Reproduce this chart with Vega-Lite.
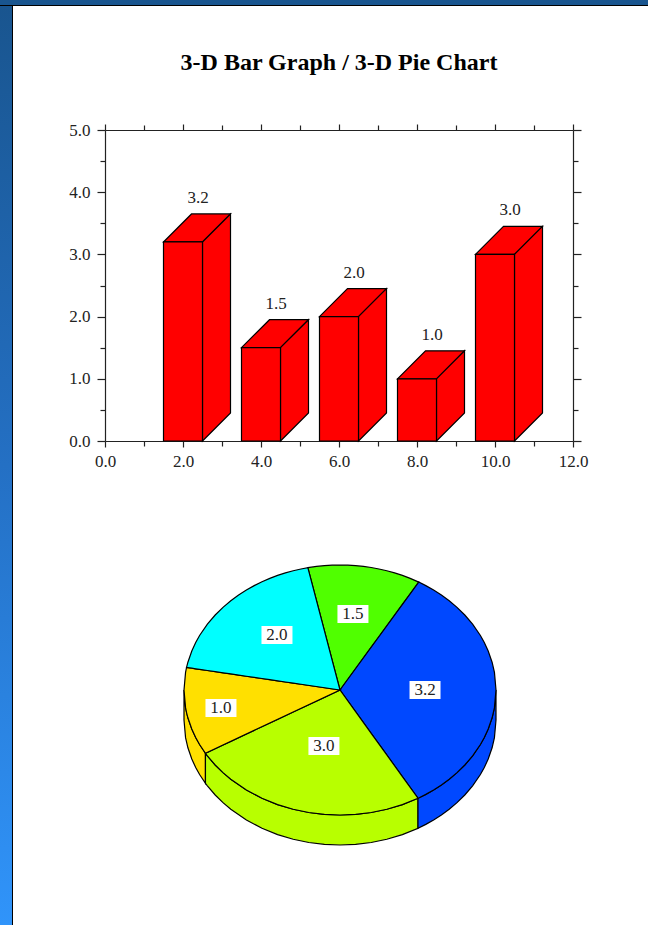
{
  "$schema": "https://vega.github.io/schema/vega-lite/v6.json",
  "padding": 0,
  "background": "white",
  "config": {
    "view": {"stroke": null},
    "axis": {
      "grid": false, "title": null, "domainColor": "#222", "tickColor": "#222", "domainWidth": 1.2, "tickWidth": 1.2,
      "labelFont": "Liberation Serif", "labelFontSize": 17, "labelColor": "#222",
      "labelPadding": 7, "labelOverlap": false, "labelFlush": false, "labelBound": false
    }
  },
  "datasets": {
    "bars": [
      {"center": 2, "left": 1.5, "right": 2.5, "value": 3.2},
      {"center": 4, "left": 3.5, "right": 4.5, "value": 1.5},
      {"center": 6, "left": 5.5, "right": 6.5, "value": 2.0},
      {"center": 8, "left": 7.5, "right": 8.5, "value": 1.0},
      {"center": 10, "left": 9.5, "right": 10.5, "value": 3.0}
    ],
    "barFaces": [
      {"face": "a-top", "x": 1.5, "lo": 3.2, "hi": 3.2},
      {"face": "a-top", "x": 2.218, "lo": 3.2, "hi": 3.65},
      {"face": "a-top", "x": 2.5, "lo": 3.2, "hi": 3.65},
      {"face": "a-top", "x": 3.218, "lo": 3.65, "hi": 3.65},
      {"face": "a-side", "x": 2.5, "lo": 0, "hi": 3.2},
      {"face": "a-side", "x": 3.218, "lo": 0.45, "hi": 3.65},
      {"face": "b-top", "x": 3.5, "lo": 1.5, "hi": 1.5},
      {"face": "b-top", "x": 4.218, "lo": 1.5, "hi": 1.95},
      {"face": "b-top", "x": 4.5, "lo": 1.5, "hi": 1.95},
      {"face": "b-top", "x": 5.218, "lo": 1.95, "hi": 1.95},
      {"face": "b-side", "x": 4.5, "lo": 0, "hi": 1.5},
      {"face": "b-side", "x": 5.218, "lo": 0.45, "hi": 1.95},
      {"face": "c-top", "x": 5.5, "lo": 2, "hi": 2},
      {"face": "c-top", "x": 6.218, "lo": 2, "hi": 2.45},
      {"face": "c-top", "x": 6.5, "lo": 2, "hi": 2.45},
      {"face": "c-top", "x": 7.218, "lo": 2.45, "hi": 2.45},
      {"face": "c-side", "x": 6.5, "lo": 0, "hi": 2},
      {"face": "c-side", "x": 7.218, "lo": 0.45, "hi": 2.45},
      {"face": "d-top", "x": 7.5, "lo": 1, "hi": 1},
      {"face": "d-top", "x": 8.218, "lo": 1, "hi": 1.45},
      {"face": "d-top", "x": 8.5, "lo": 1, "hi": 1.45},
      {"face": "d-top", "x": 9.218, "lo": 1.45, "hi": 1.45},
      {"face": "d-side", "x": 8.5, "lo": 0, "hi": 1},
      {"face": "d-side", "x": 9.218, "lo": 0.45, "hi": 1.45},
      {"face": "e-top", "x": 9.5, "lo": 3, "hi": 3},
      {"face": "e-top", "x": 10.218, "lo": 3, "hi": 3.45},
      {"face": "e-top", "x": 10.5, "lo": 3, "hi": 3.45},
      {"face": "e-top", "x": 11.218, "lo": 3.45, "hi": 3.45},
      {"face": "e-side", "x": 10.5, "lo": 0, "hi": 3},
      {"face": "e-side", "x": 11.218, "lo": 0.45, "hi": 3.45}
    ],
    "pieRim": [
      {"slice": "1.0", "x": -1, "hi": 0, "lo": -0.24},
      {"slice": "1.0", "x": -0.99, "hi": -0.14107, "lo": -0.38107},
      {"slice": "1.0", "x": -0.975, "hi": -0.2222, "lo": -0.4622},
      {"slice": "1.0", "x": -0.95, "hi": -0.31225, "lo": -0.55225},
      {"slice": "1.0", "x": -0.925, "hi": -0.38, "lo": -0.62},
      {"slice": "1.0", "x": -0.9, "hi": -0.43589, "lo": -0.67589},
      {"slice": "1.0", "x": -0.8625, "hi": -0.506, "lo": -0.746},
      {"slice": "3.0", "x": -0.8625, "hi": -0.506, "lo": -0.746},
      {"slice": "3.0", "x": -0.85, "hi": -0.5268, "lo": -0.7668},
      {"slice": "3.0", "x": -0.8, "hi": -0.6, "lo": -0.84},
      {"slice": "3.0", "x": -0.75, "hi": -0.66144, "lo": -0.90144},
      {"slice": "3.0", "x": -0.7, "hi": -0.71414, "lo": -0.95414},
      {"slice": "3.0", "x": -0.6, "hi": -0.8, "lo": -1.04},
      {"slice": "3.0", "x": -0.5, "hi": -0.86603, "lo": -1.10603},
      {"slice": "3.0", "x": -0.4, "hi": -0.91652, "lo": -1.15652},
      {"slice": "3.0", "x": -0.3, "hi": -0.95394, "lo": -1.19394},
      {"slice": "3.0", "x": -0.2, "hi": -0.9798, "lo": -1.2198},
      {"slice": "3.0", "x": -0.1, "hi": -0.99499, "lo": -1.23499},
      {"slice": "3.0", "x": 0, "hi": -1, "lo": -1.24},
      {"slice": "3.0", "x": 0.1, "hi": -0.99499, "lo": -1.23499},
      {"slice": "3.0", "x": 0.2, "hi": -0.9798, "lo": -1.2198},
      {"slice": "3.0", "x": 0.3, "hi": -0.95394, "lo": -1.19394},
      {"slice": "3.0", "x": 0.4, "hi": -0.91652, "lo": -1.15652},
      {"slice": "3.0", "x": 0.5, "hi": -0.86603, "lo": -1.10603},
      {"slice": "3.2", "x": 0.5, "hi": -0.86603, "lo": -1.10603},
      {"slice": "3.2", "x": 0.55, "hi": -0.83516, "lo": -1.07516},
      {"slice": "3.2", "x": 0.6, "hi": -0.8, "lo": -1.04},
      {"slice": "3.2", "x": 0.65, "hi": -0.75993, "lo": -0.99993},
      {"slice": "3.2", "x": 0.7, "hi": -0.71414, "lo": -0.95414},
      {"slice": "3.2", "x": 0.75, "hi": -0.66144, "lo": -0.90144},
      {"slice": "3.2", "x": 0.8, "hi": -0.6, "lo": -0.84},
      {"slice": "3.2", "x": 0.85, "hi": -0.52678, "lo": -0.76678},
      {"slice": "3.2", "x": 0.9, "hi": -0.43589, "lo": -0.67589},
      {"slice": "3.2", "x": 0.925, "hi": -0.38, "lo": -0.62},
      {"slice": "3.2", "x": 0.95, "hi": -0.31225, "lo": -0.55225},
      {"slice": "3.2", "x": 0.975, "hi": -0.2222, "lo": -0.4622},
      {"slice": "3.2", "x": 0.99, "hi": -0.14107, "lo": -0.38107},
      {"slice": "3.2", "x": 1, "hi": 0, "lo": -0.24}
    ],
    "pieTop": [
      {"slice": "1.5", "x": -0.2062, "hi": 0.9785, "lo": 0.9785},
      {"slice": "1.5", "x": -0.15, "hi": 0.98869, "lo": 0.7118},
      {"slice": "1.5", "x": -0.1, "hi": 0.99499, "lo": 0.4745},
      {"slice": "1.5", "x": -0.05, "hi": 0.99875, "lo": 0.2373},
      {"slice": "1.5", "x": 0, "hi": 1, "lo": 0},
      {"slice": "1.5", "x": 0.05, "hi": 0.99875, "lo": 0.0856},
      {"slice": "1.5", "x": 0.1, "hi": 0.99499, "lo": 0.1711},
      {"slice": "1.5", "x": 0.15, "hi": 0.98869, "lo": 0.2567},
      {"slice": "1.5", "x": 0.2, "hi": 0.9798, "lo": 0.3423},
      {"slice": "1.5", "x": 0.25, "hi": 0.96825, "lo": 0.4279},
      {"slice": "1.5", "x": 0.3, "hi": 0.95394, "lo": 0.5134},
      {"slice": "1.5", "x": 0.35, "hi": 0.93675, "lo": 0.599},
      {"slice": "1.5", "x": 0.4, "hi": 0.91652, "lo": 0.6846},
      {"slice": "1.5", "x": 0.45, "hi": 0.89303, "lo": 0.7701},
      {"slice": "1.5", "x": 0.5045, "hi": 0.8634, "lo": 0.8634},

      {"slice": "3.2", "x": 0, "hi": 0, "lo": 0},
      {"slice": "3.2", "x": 0.5, "hi": 0.8557, "lo": -0.866},
      {"slice": "3.2", "x": 0.5045, "hi": 0.8634, "lo": -0.8634},
      {"slice": "3.2", "x": 0.55, "hi": 0.83516, "lo": -0.83516},
      {"slice": "3.2", "x": 0.6, "hi": 0.8, "lo": -0.8},
      {"slice": "3.2", "x": 0.65, "hi": 0.75993, "lo": -0.75993},
      {"slice": "3.2", "x": 0.7, "hi": 0.71414, "lo": -0.71414},
      {"slice": "3.2", "x": 0.75, "hi": 0.66144, "lo": -0.66144},
      {"slice": "3.2", "x": 0.8, "hi": 0.6, "lo": -0.6},
      {"slice": "3.2", "x": 0.85, "hi": 0.52678, "lo": -0.52678},
      {"slice": "3.2", "x": 0.9, "hi": 0.43589, "lo": -0.43589},
      {"slice": "3.2", "x": 0.925, "hi": 0.38, "lo": -0.38},
      {"slice": "3.2", "x": 0.95, "hi": 0.31225, "lo": -0.31225},
      {"slice": "3.2", "x": 0.975, "hi": 0.2222, "lo": -0.2222},
      {"slice": "3.2", "x": 0.99, "hi": 0.14107, "lo": -0.14107},
      {"slice": "3.2", "x": 1, "hi": 0, "lo": 0},

      {"slice": "3.0", "x": -0.8625, "hi": -0.506, "lo": -0.506},
      {"slice": "3.0", "x": -0.85, "hi": -0.4987, "lo": -0.5268},
      {"slice": "3.0", "x": -0.8, "hi": -0.4694, "lo": -0.6},
      {"slice": "3.0", "x": -0.75, "hi": -0.44, "lo": -0.66144},
      {"slice": "3.0", "x": -0.7, "hi": -0.4107, "lo": -0.71414},
      {"slice": "3.0", "x": -0.6, "hi": -0.352, "lo": -0.8},
      {"slice": "3.0", "x": -0.5, "hi": -0.2934, "lo": -0.86603},
      {"slice": "3.0", "x": -0.4, "hi": -0.2347, "lo": -0.91652},
      {"slice": "3.0", "x": -0.3, "hi": -0.176, "lo": -0.95394},
      {"slice": "3.0", "x": -0.2, "hi": -0.1173, "lo": -0.9798},
      {"slice": "3.0", "x": -0.1, "hi": -0.0587, "lo": -0.99499},
      {"slice": "3.0", "x": 0, "hi": 0, "lo": -1},
      {"slice": "3.0", "x": 0.1, "hi": -0.1732, "lo": -0.99499},
      {"slice": "3.0", "x": 0.2, "hi": -0.3464, "lo": -0.9798},
      {"slice": "3.0", "x": 0.3, "hi": -0.5196, "lo": -0.95394},
      {"slice": "3.0", "x": 0.4, "hi": -0.6928, "lo": -0.91652},
      {"slice": "3.0", "x": 0.5, "hi": -0.866, "lo": -0.866},

      {"slice": "1.0", "x": -1, "hi": 0, "lo": 0},
      {"slice": "1.0", "x": -0.99, "hi": 0.14107, "lo": -0.14107},
      {"slice": "1.0", "x": -0.9836, "hi": 0.1805, "lo": -0.1805},
      {"slice": "1.0", "x": -0.975, "hi": 0.1789, "lo": -0.2222},
      {"slice": "1.0", "x": -0.95, "hi": 0.1743, "lo": -0.31225},
      {"slice": "1.0", "x": -0.925, "hi": 0.1697, "lo": -0.38},
      {"slice": "1.0", "x": -0.9, "hi": 0.1652, "lo": -0.43589},
      {"slice": "1.0", "x": -0.8625, "hi": 0.1583, "lo": -0.506},
      {"slice": "1.0", "x": 0, "hi": 0, "lo": 0},

      {"slice": "2.0", "x": -0.9836, "hi": 0.1805, "lo": 0.1805},
      {"slice": "2.0", "x": -0.975, "hi": 0.2222, "lo": 0.1789},
      {"slice": "2.0", "x": -0.95, "hi": 0.31225, "lo": 0.1743},
      {"slice": "2.0", "x": -0.925, "hi": 0.38, "lo": 0.1697},
      {"slice": "2.0", "x": -0.9, "hi": 0.43589, "lo": 0.1652},
      {"slice": "2.0", "x": -0.85, "hi": 0.52678, "lo": 0.156},
      {"slice": "2.0", "x": -0.8, "hi": 0.6, "lo": 0.1468},
      {"slice": "2.0", "x": -0.75, "hi": 0.66144, "lo": 0.1376},
      {"slice": "2.0", "x": -0.7, "hi": 0.71414, "lo": 0.1285},
      {"slice": "2.0", "x": -0.65, "hi": 0.75993, "lo": 0.1193},
      {"slice": "2.0", "x": -0.6, "hi": 0.8, "lo": 0.1101},
      {"slice": "2.0", "x": -0.55, "hi": 0.83516, "lo": 0.1009},
      {"slice": "2.0", "x": -0.5, "hi": 0.86603, "lo": 0.0918},
      {"slice": "2.0", "x": -0.45, "hi": 0.89303, "lo": 0.0826},
      {"slice": "2.0", "x": -0.4, "hi": 0.91652, "lo": 0.0734},
      {"slice": "2.0", "x": -0.35, "hi": 0.93675, "lo": 0.0642},
      {"slice": "2.0", "x": -0.3, "hi": 0.95394, "lo": 0.0551},
      {"slice": "2.0", "x": -0.25, "hi": 0.96825, "lo": 0.0459},
      {"slice": "2.0", "x": -0.2062, "hi": 0.9785, "lo": 0.0378},
      {"slice": "2.0", "x": 0, "hi": 0, "lo": 0}
    ],
    "pieLabels": [
      {"value": 3.2, "x": 0.545, "y": 0},
      {"value": 3.0, "x": -0.103, "y": -0.448},
      {"value": 1.0, "x": -0.763, "y": -0.144},
      {"value": 2.0, "x": -0.404, "y": 0.44},
      {"value": 1.5, "x": 0.083, "y": 0.608}
    ]
  },
  "vconcat": [
    {
      "width": 648, "height": 5, "data": {"values": [{}]},
      "mark": {"type": "rect", "color": "#19558f"}
    },
    {
      "width": 648, "height": 1, "data": {"values": [{}]},
      "mark": {"type": "rect", "color": "#000000"}
    },
    {
      "hconcat": [
        {
          "hconcat": [
            {
              "width": 12, "height": 919, "data": {"values": [{}]},
              "mark": {"type": "rect", "color": {
                "gradient": "linear", "x1": 0, "y1": 0, "x2": 0, "y2": 1,
                "stops": [
                  {"offset": 0, "color": "#19558f"},
                  {"offset": 0.5, "color": "#2470c4"},
                  {"offset": 1, "color": "#3094fa"}
                ]
              }}
            },
            {
              "width": 1, "height": 919, "data": {"values": [{}]},
              "mark": {"type": "rect", "color": "#000000"}
            }
          ],
          "spacing": 0, "bounds": "flush"
        },
        {
          "vconcat": [
            {
              "width": 468, "height": 114,
              "data": {"values": [{"heading": "3-D Bar Graph / 3-D Pie Chart"}]},
              "mark": {"type": "text", "font": "Liberation Serif", "fontWeight": "bold", "fontSize": 24, "color": "#000000", "baseline": "middle"},
              "encoding": {"text": {"field": "heading"}}
            },
            {
              "width": 468, "height": 311,
              "layer": [
                {
                  "data": {"name": "barFaces"},
                  "mark": {"type": "area", "orient": "vertical", "color": "#ff0000", "stroke": "#000000", "strokeWidth": 1.2},
                  "encoding": {
                    "x": {"field": "x", "type": "quantitative", "scale": {"domain": [0, 12], "nice": false},
                      "axis": {"orient": "top", "values": [0,1,2,3,4,5,6,7,8,9,10,11,12], "labels": false, "tickSize": {"condition": {"test": "datum.value % 2 === 0", "value": 6}, "value": 5}}},
                    "y": {"field": "hi", "type": "quantitative", "scale": {"domain": [0, 5], "nice": false},
                      "axis": {"orient": "right", "values": [0,0.5,1,1.5,2,2.5,3,3.5,4,4.5,5], "labels": false, "tickSize": {"condition": {"test": "datum.value % 1 === 0", "value": 8}, "value": 5}}},
                    "y2": {"field": "lo"},
                    "detail": {"field": "face"}
                  }
                },
                {
                  "data": {"name": "bars"},
                  "mark": {"type": "rect", "color": "#ff0000", "stroke": "#000000", "strokeWidth": 1.2},
                  "encoding": {
                    "x": {"field": "left", "type": "quantitative", "scale": {"domain": [0, 12], "nice": false},
                      "axis": {"orient": "bottom", "values": [0,1,2,3,4,5,6,7,8,9,10,11,12], "labelPadding": 6,
                        "labelExpr": "datum.value % 2 === 0 ? format(datum.value, '.1f') : ''",
                        "tickSize": {"condition": {"test": "datum.value % 2 === 0", "value": 6}, "value": 5}}},
                    "x2": {"field": "right"},
                    "y": {"field": "value", "type": "quantitative", "scale": {"domain": [0, 5], "nice": false},
                      "axis": {"orient": "left", "values": [0,0.5,1,1.5,2,2.5,3,3.5,4,4.5,5],
                        "labelExpr": "datum.value % 1 === 0 ? format(datum.value, '.1f') : ''",
                        "tickSize": {"condition": {"test": "datum.value % 1 === 0", "value": 8}, "value": 5}}},
                    "y2": {"datum": 0}
                  }
                },
                {
                  "data": {"name": "bars"},
                  "mark": {"type": "text", "font": "Liberation Serif", "fontSize": 17, "color": "#222", "dx": 15, "dy": -44, "baseline": "middle"},
                  "encoding": {
                    "x": {"field": "center", "type": "quantitative", "scale": {"domain": [0, 12], "nice": false}, "axis": null},
                    "y": {"field": "value", "type": "quantitative", "scale": {"domain": [0, 5], "nice": false}, "axis": null},
                    "text": {"field": "value", "type": "quantitative", "format": ".1f"}
                  }
                }
              ],
              "resolve": {"axis": {"x": "independent", "y": "independent"}}
            },
            {
              "width": 468, "height": 474,
              "layer": [
                {
                  "data": {"name": "pieRim"},
                  "mark": {"type": "area", "orient": "vertical", "stroke": "#000000", "strokeWidth": 1.2},
                  "encoding": {
                    "x": {"field": "x", "type": "quantitative", "scale": {"domain": [-1.5064, 1.4936], "nice": false, "zero": false}, "axis": null},
                    "y": {"field": "hi", "type": "quantitative", "scale": {"domain": [-1.88, 1.912], "nice": false, "zero": false}, "axis": null},
                    "y2": {"field": "lo"},
                    "color": {"field": "slice", "type": "nominal", "legend": null,
                      "scale": {"domain": ["1.0", "1.5", "2.0", "3.0", "3.2"], "range": ["#ffe000", "#50ff00", "#00ffff", "#b8ff00", "#0048ff"]}}
                  }
                },
                {
                  "data": {"name": "pieTop"},
                  "mark": {"type": "area", "orient": "vertical", "stroke": "#000000", "strokeWidth": 1.2},
                  "encoding": {
                    "x": {"field": "x", "type": "quantitative", "scale": {"domain": [-1.5064, 1.4936], "nice": false, "zero": false}, "axis": null},
                    "y": {"field": "hi", "type": "quantitative", "scale": {"domain": [-1.88, 1.912], "nice": false, "zero": false}, "axis": null},
                    "y2": {"field": "lo"},
                    "color": {"field": "slice", "type": "nominal", "legend": null,
                      "scale": {"domain": ["1.0", "1.5", "2.0", "3.0", "3.2"], "range": ["#ffe000", "#50ff00", "#00ffff", "#b8ff00", "#0048ff"]}}
                  }
                },
                {
                  "data": {"name": "pieLabels"},
                  "mark": {"type": "rect", "color": "#ffffff", "width": 31, "height": 18},
                  "encoding": {
                    "x": {"field": "x", "type": "quantitative", "scale": {"domain": [-1.5064, 1.4936], "nice": false, "zero": false}, "axis": null},
                    "y": {"field": "y", "type": "quantitative", "scale": {"domain": [-1.88, 1.912], "nice": false, "zero": false}, "axis": null}
                  }
                },
                {
                  "data": {"name": "pieLabels"},
                  "mark": {"type": "text", "font": "Liberation Serif", "fontSize": 17, "color": "#222", "baseline": "middle"},
                  "encoding": {
                    "x": {"field": "x", "type": "quantitative", "scale": {"domain": [-1.5064, 1.4936], "nice": false, "zero": false}, "axis": null},
                    "y": {"field": "y", "type": "quantitative", "scale": {"domain": [-1.88, 1.912], "nice": false, "zero": false}, "axis": null},
                    "text": {"field": "value", "type": "quantitative", "format": ".1f"}
                  }
                }
              ]
            }
          ],
          "spacing": 10, "bounds": "flush"
        }
      ],
      "spacing": 105, "bounds": "flush"
    }
  ],
  "spacing": 0, "bounds": "flush"
}
